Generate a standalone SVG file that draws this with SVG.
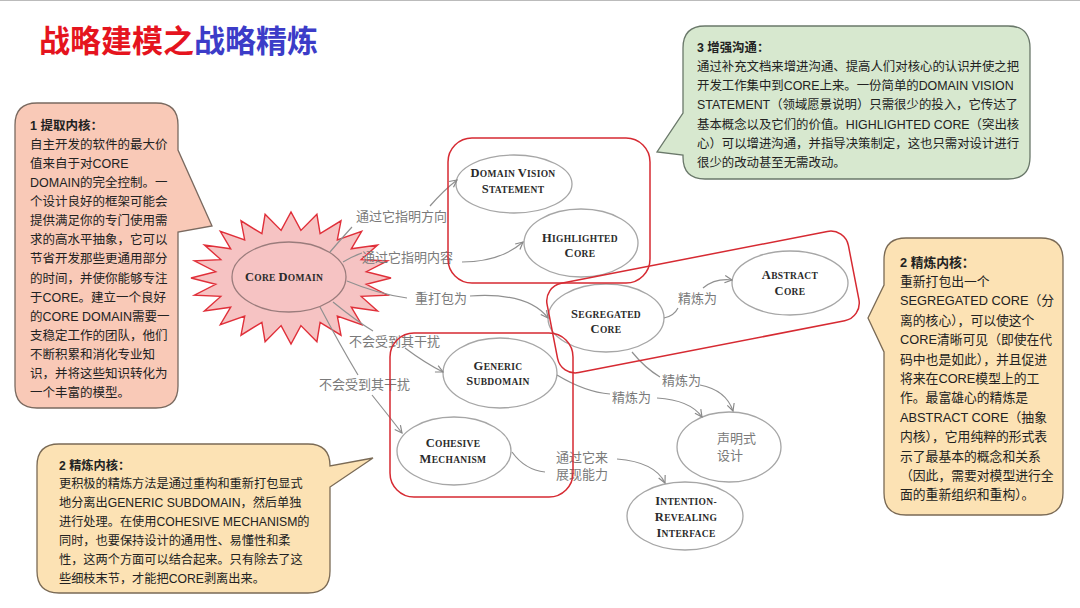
<svg xmlns="http://www.w3.org/2000/svg" width="1080" height="608" viewBox="0 0 1080 608">
<defs>
<style>
.ct{font-family:"Liberation Sans","Noto Sans CJK SC",sans-serif;fill:#222}
.ct .h{font-weight:700}
.nl{font-family:"Liberation Serif","Noto Serif CJK SC",serif;font-weight:700;fill:#2a2a2a;font-size:9.5px;text-anchor:middle;letter-spacing:0.3px}
.nl .c{font-size:12.5px}
.el{font-family:"Noto Sans CJK SC","Liberation Sans",sans-serif;font-size:13px;fill:#7a7a7a}
.node{fill:none;stroke:#a6a6a6;stroke-width:1.3}
.grp{fill:none;stroke:#d62a32;stroke-width:1.5}
.edge{fill:none;stroke:#909090;stroke-width:1.2}
.arr{marker-end:url(#ah)}
.callout{stroke-width:1.3}
</style>
<marker id="ah" viewBox="0 0 10 10" refX="9" refY="5" markerWidth="9" markerHeight="9" markerUnits="userSpaceOnUse" orient="auto">
<path d="M1,1 L9,5 L1,9" fill="none" stroke="#888" stroke-width="1.3"/>
</marker>
</defs>
<rect width="1080" height="608" fill="#fff"/>
<line x1="0" y1="0.5" x2="1080" y2="0.5" stroke="#bbb" stroke-width="1.2"/>

<g id="title">
<text x="39" y="52" font-family="Noto Sans CJK SC,sans-serif" font-weight="700" font-size="31"><tspan fill="#e5141e">战略建模之</tspan><tspan fill="#3c3cc8">战略精炼</tspan></text>
</g>

<g id="callout-1">
<path class="callout" d="M37,103 H156 Q178,103 178,125 V150 L212,226 L178,232 V386 Q178,408 156,408 H37 Q15,408 15,386 V125 Q15,103 37,103 Z" fill="#f9c9b7" stroke="#7a6a60"/>
<text class="ct" x="30" y="129.5" font-size="12.5"><tspan class="h" x="30">1 提取内核：</tspan><tspan x="30" dy="19.14">自主开发的软件的最大价</tspan><tspan x="30" dy="19.14">值来自于对CORE</tspan><tspan x="30" dy="19.14">DOMAIN的完全控制。一</tspan><tspan x="30" dy="19.14">个设计良好的框架可能会</tspan><tspan x="30" dy="19.14">提供满足你的专门使用需</tspan><tspan x="30" dy="19.14">求的高水平抽象，它可以</tspan><tspan x="30" dy="19.14">节省开发那些更通用部分</tspan><tspan x="30" dy="19.14">的时间，并使你能够专注</tspan><tspan x="30" dy="19.14">于CORE。建立一个良好</tspan><tspan x="30" dy="19.14">的CORE DOMAIN需要一</tspan><tspan x="30" dy="19.14">支稳定工作的团队，他们</tspan><tspan x="30" dy="19.14">不断积累和消化专业知</tspan><tspan x="30" dy="19.14">识，并将这些知识转化为</tspan><tspan x="30" dy="19.14">一个丰富的模型。</tspan></text>
</g>

<g id="callout-3">
<path class="callout" d="M705,26 H1008 Q1030,26 1030,48 V157 Q1030,179 1008,179 H705 Q683,179 683,157 V155 L657,152 L683,113 V48 Q683,26 705,26 Z" fill="#d7e8cf" stroke="#6a786a"/>
<text class="ct" x="697" y="51.5" font-size="12.4"><tspan class="h" x="697">3 增强沟通：</tspan><tspan x="697" dy="19.3">通过补充文档来增进沟通、提高人们对核心的认识并使之把</tspan><tspan x="697" dy="19.3">开发工作集中到CORE上来。一份简单的DOMAIN VISION</tspan><tspan x="697" dy="19.3">STATEMENT（领域愿景说明）只需很少的投入，它传达了</tspan><tspan x="697" dy="19.3">基本概念以及它们的价值。HIGHLIGHTED CORE（突出核</tspan><tspan x="697" dy="19.3">心）可以增进沟通，并指导决策制定，这也只需对设计进行</tspan><tspan x="697" dy="19.3">很少的改动甚至无需改动。</tspan></text>
</g>

<g id="callout-2-right">
<path class="callout" d="M906,238 H1041 Q1063,238 1063,260 V493 Q1063,515 1041,515 H906 Q884,515 884,493 V352 L868,318 L884,285 V260 Q884,238 906,238 Z" fill="#fce2b4" stroke="#7a6a55"/>
<text class="ct" x="900" y="266.5" font-size="12.8"><tspan class="h" x="900">2 精炼内核：</tspan><tspan x="900" dy="19.4">重新打包出一个</tspan><tspan x="900" dy="19.4">SEGREGATED CORE（分</tspan><tspan x="900" dy="19.4">离的核心），可以使这个</tspan><tspan x="900" dy="19.4">CORE清晰可见（即使在代</tspan><tspan x="900" dy="19.4">码中也是如此），并且促进</tspan><tspan x="900" dy="19.4">将来在CORE模型上的工</tspan><tspan x="900" dy="19.4">作。最富雄心的精炼是</tspan><tspan x="900" dy="19.4">ABSTRACT CORE（抽象</tspan><tspan x="900" dy="19.4">内核），它用纯粹的形式表</tspan><tspan x="900" dy="19.4">示了最基本的概念和关系</tspan><tspan x="900" dy="19.4">（因此，需要对模型进行全</tspan><tspan x="900" dy="19.4">面的重新组织和重构）。</tspan></text>
</g>

<g id="callout-2-bottom">
<path class="callout" d="M59,444 H308 Q330,444 330,466 L373,458 L330,487 V571 Q330,593 308,593 H59 Q37,593 37,571 V466 Q37,444 59,444 Z" fill="#fce2b4" stroke="#7a6a55"/>
<text class="ct" x="59" y="469.5" font-size="12.2"><tspan class="h" x="59">2 精炼内核：</tspan><tspan x="59" dy="18.9">更积极的精炼方法是通过重构和重新打包显式</tspan><tspan x="59" dy="18.9">地分离出GENERIC SUBDOMAIN，然后单独</tspan><tspan x="59" dy="18.9">进行处理。在使用COHESIVE MECHANISM的</tspan><tspan x="59" dy="18.9">同时，也要保持设计的通用性、易懂性和柔</tspan><tspan x="59" dy="18.9">性，这两个方面可以结合起来。只有除去了这</tspan><tspan x="59" dy="18.9">些细枝末节，才能把CORE剥离出来。</tspan></text>
</g>

<g id="core-domain">
<polygon points="391,278 366.3,284.3 387.6,295.1 361.2,296.4 377.6,311 351.3,307.2 361.7,324.7 337.3,316.1 341,335.2 320.1,322.3 316.9,341.7 300.9,325.6 291,344 281.1,325.6 265.1,341.7 261.9,322.3 241,335.2 244.7,316.1 220.3,324.7 230.7,307.2 204.4,311 220.8,296.4 194.4,295.1 215.7,284.3 191,278 215.7,271.7 194.4,260.9 220.8,259.6 204.4,245 230.7,248.8 220.3,231.3 244.7,239.9 241,220.8 261.9,233.7 265.1,214.3 281.1,230.4 291,212 300.9,230.4 316.9,214.3 320.1,233.7 341,220.8 337.3,239.9 361.7,231.3 351.3,248.8 377.6,245 361.2,259.6 387.6,260.9 366.3,271.7" fill="#f6c3c3" stroke="#e0303a" stroke-width="1.4" stroke-linejoin="miter"/>
<ellipse cx="289" cy="277" rx="57" ry="35" fill="none" stroke="#9a7c7c" stroke-width="1.3"/>
<text class="nl" x="284" y="281"><tspan class="c">C</tspan>ORE <tspan class="c">D</tspan>OMAIN</text>
</g>

<g id="domain-vision-statement">
<ellipse class="node" cx="514" cy="184" rx="58" ry="29"/>
<text class="nl" x="513" y="177"><tspan class="c">D</tspan>OMAIN <tspan class="c">V</tspan>ISION</text>
<text class="nl" x="513" y="193"><tspan class="c">S</tspan>TATEMENT</text>
</g>

<g id="highlighted-core">
<ellipse class="node" cx="581" cy="243" rx="57" ry="34"/>
<text class="nl" x="580" y="242"><tspan class="c">H</tspan>IGHLIGHTED</text>
<text class="nl" x="580" y="257"><tspan class="c">C</tspan>ORE</text>
</g>

<g id="abstract-core">
<ellipse class="node" cx="790" cy="283" rx="58" ry="32"/>
<text class="nl" x="790" y="279"><tspan class="c">A</tspan>BSTRACT</text>
<text class="nl" x="790" y="295"><tspan class="c">C</tspan>ORE</text>
</g>

<g id="segregated-core">
<ellipse class="node" cx="606" cy="318" rx="58" ry="34"/>
<text class="nl" x="606" y="318"><tspan class="c">S</tspan>EGREGATED</text>
<text class="nl" x="606" y="333"><tspan class="c">C</tspan>ORE</text>
</g>

<g id="generic-subdomain">
<ellipse class="node" cx="500" cy="373" rx="57" ry="35"/>
<text class="nl" x="498" y="370"><tspan class="c">G</tspan>ENERIC</text>
<text class="nl" x="498" y="385"><tspan class="c">S</tspan>UBDOMAIN</text>
</g>

<g id="cohesive-mechanism">
<ellipse class="node" cx="454" cy="451" rx="57" ry="34"/>
<text class="nl" x="453" y="447"><tspan class="c">C</tspan>OHESIVE</text>
<text class="nl" x="453" y="463"><tspan class="c">M</tspan>ECHANISM</text>
</g>

<g id="declarative-design">
<ellipse class="node" cx="729" cy="447" rx="52" ry="35"/>
<text class="el" x="717" y="443" fill="#666"><tspan x="717">声明式</tspan><tspan x="717" dy="17">设计</tspan></text>
</g>

<g id="intention-revealing-interface">
<ellipse class="node" cx="685" cy="516" rx="58" ry="34"/>
<text class="nl" x="686" y="505"><tspan class="c">I</tspan>NTENTION-</text>
<text class="nl" x="686" y="521"><tspan class="c">R</tspan>EVEALING</text>
<text class="nl" x="686" y="537"><tspan class="c">I</tspan>NTERFACE</text>
</g>

<g id="connectors">
<path class="edge" d="M330,252 Q342,238 352,227"/>
<path class="edge arr" d="M430,206 Q444,190 457,180"/>
<path class="edge" d="M343,262 Q353,256 362,253"/>
<path class="edge arr" d="M462,262 Q500,262 523,242"/>
<path class="edge" d="M347,281 Q378,294 407,298"/>
<path class="edge arr" d="M470,296 Q528,292 548,318"/>
<path class="edge" d="M333,302 Q355,320 373,331"/>
<path class="edge arr" d="M405,348 Q425,363 443,372"/>
<path class="edge" d="M320,307 Q340,345 358,375"/>
<path class="edge arr" d="M372,395 Q388,415 402,433"/>
<path class="edge" d="M664,318 Q674,316 678,308"/>
<path class="edge arr" d="M703,288 Q715,278 732,280"/>
<path class="edge" d="M632,352 Q645,368 660,377"/>
<path class="edge arr" d="M700,385 Q726,390 733,411"/>
<path class="edge" d="M557,375 Q585,392 610,394"/>
<path class="edge arr" d="M657,398 Q690,400 702,417"/>
<path class="edge" d="M512,452 Q525,470 545,472"/>
<path class="edge arr" d="M617,459 Q655,462 665,483"/>
<text class="el" x="356" y="221">通过它指明方向</text>
<text class="el" x="362" y="262">通过它指明内容</text>
<text class="el" x="415" y="303">重打包为</text>
<text class="el" x="349" y="346">不会受到其干扰</text>
<text class="el" x="319" y="389">不会受到其干扰</text>
<text class="el" x="678" y="303">精炼为</text>
<text class="el" x="662" y="385">精炼为</text>
<text class="el" x="612" y="402">精炼为</text>
<text class="el" x="556" y="462" font-size="12.5"><tspan x="556">通过它来</tspan><tspan x="556" dy="17">展现能力</tspan></text>
</g>

<g id="groups">
<rect class="grp" x="448" y="138" width="202" height="145" rx="24"/>
<rect class="grp" x="549.5" y="256.5" width="307" height="91" rx="18" transform="rotate(-11 703 302)"/>
<rect class="grp" x="390" y="333" width="183" height="164" rx="24"/>
</g>
</svg>
